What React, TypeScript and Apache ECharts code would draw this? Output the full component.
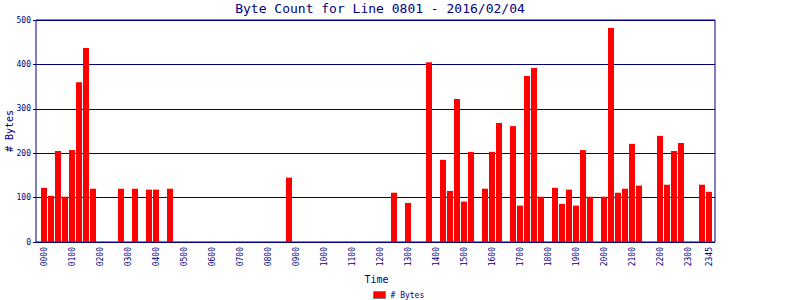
import React, { useEffect, useRef } from "react";
import * as echarts from "echarts";

// 15-minute time slots 0000 .. 2345
const times: string[] = [];
for (let h = 0; h < 24; h++) {
  for (let m = 0; m < 60; m += 15) {
    times.push(String(h).padStart(2, "0") + String(m).padStart(2, "0"));
  }
}

const bytes: (number | null)[] = [
  122, 104, 205, 102, 207, 360, 437, 120, null, null, null, 120, null, 120, null, 118,
  118, null, 120, null, null, null, null, null, null, null, null, null, null, null, null, null,
  null, null, null, 145, null, null, null, null, null, null, null, null, null, null, null, null,
  null, null, 111, null, 88, null, null, 405, null, 185, 115, 322, 91, 203, null, 120,
  203, 268, null, 261, 82, 374, 392, 102, null, 122, 86, 118, 82, 207, 102, null,
  102, 482, 111, 120, 221, 127, null, null, 239, 129, 205, 223, null, null, 129, 113,
];

const yTicks = { min: 0, max: 500, interval: 100 };
const titleText = "Byte Count for Line 0801 - 2016/02/04";
const seriesName = "# Bytes";

const NAVY = "#000080";
const FONT = "DejaVu Sans Mono";

export default function App() {
  const ref = useRef<HTMLDivElement>(null);
  useEffect(() => {
    if (!ref.current) return;
    const chart = echarts.init(ref.current, null, { renderer: "svg" });
    chart.setOption({
      animation: false,
      backgroundColor: "#ffffff",
      title: {
        text: titleText,
        left: 375,
        textAlign: "center",
        top: -3,
        textStyle: { fontFamily: FONT, fontSize: 13, fontWeight: "normal", color: NAVY },
      },
      legend: {
        data: [seriesName],
        left: 373,
        top: 291,
        padding: 0,
        icon: "rect",
        itemWidth: 12,
        itemHeight: 7,
        itemStyle: { borderColor: "#808080", borderWidth: 1 },
        textStyle: { fontFamily: FONT, fontSize: 8, color: NAVY },
      },
      grid: [
        {
          left: 36, top: 20, width: 679, height: 222,
          outerBoundsMode: "none",
          containLabel: false,
          show: true, borderColor: NAVY, borderWidth: 1, backgroundColor: "transparent",
        },
        {
          left: 40.5, top: 20, width: 672, height: 222,
          outerBoundsMode: "none",
          containLabel: false,
        },
      ],
      xAxis: [
        { type: "value", gridIndex: 0, show: false, min: 0, max: 1 },
        {
          type: "category",
          gridIndex: 1,
          data: times,
          axisLine: { show: false },
          axisTick: { show: false },
          axisLabel: {
            rotate: 90,
            margin: 5,
            interval: (i: number) => i % 4 === 0 || i === 95,
            fontFamily: FONT,
            fontSize: 8,
            color: NAVY,
          },
          name: "Time",
          nameLocation: "middle",
          nameGap: 26,
          nameTextStyle: { fontFamily: FONT, fontSize: 10, color: NAVY },
        },
      ],
      yAxis: [
        {
          type: "value",
          gridIndex: 0,
          min: yTicks.min,
          max: yTicks.max,
          interval: yTicks.interval,
          axisLine: { show: false },
          axisTick: { show: true, length: 3, lineStyle: { color: NAVY } },
          axisLabel: { margin: 5, fontFamily: FONT, fontSize: 8, color: NAVY },
          splitLine: { show: true, lineStyle: { color: NAVY, width: 1 } },
          name: "# Bytes",
          nameLocation: "middle",
          nameGap: 22,
          nameMoveOverlap: false,
          nameTextStyle: { fontFamily: FONT, fontSize: 10, color: NAVY },
        },
        {
          type: "value",
          gridIndex: 1,
          min: yTicks.min,
          max: yTicks.max,
          interval: yTicks.interval,
          show: false,
          splitLine: { show: false },
        },
      ],
      series: [
        {
          name: seriesName,
          type: "bar",
          xAxisIndex: 1,
          yAxisIndex: 1,
          data: bytes,
          barWidth: 6,
          itemStyle: { color: "#ff0000" },
        },
      ],
    });
    return () => chart.dispose();
  }, []);
  return (
    <div
      ref={ref}
      style={{ position: "fixed", left: 0, top: 0, width: 800, height: 300 }}
    />
  );
}
